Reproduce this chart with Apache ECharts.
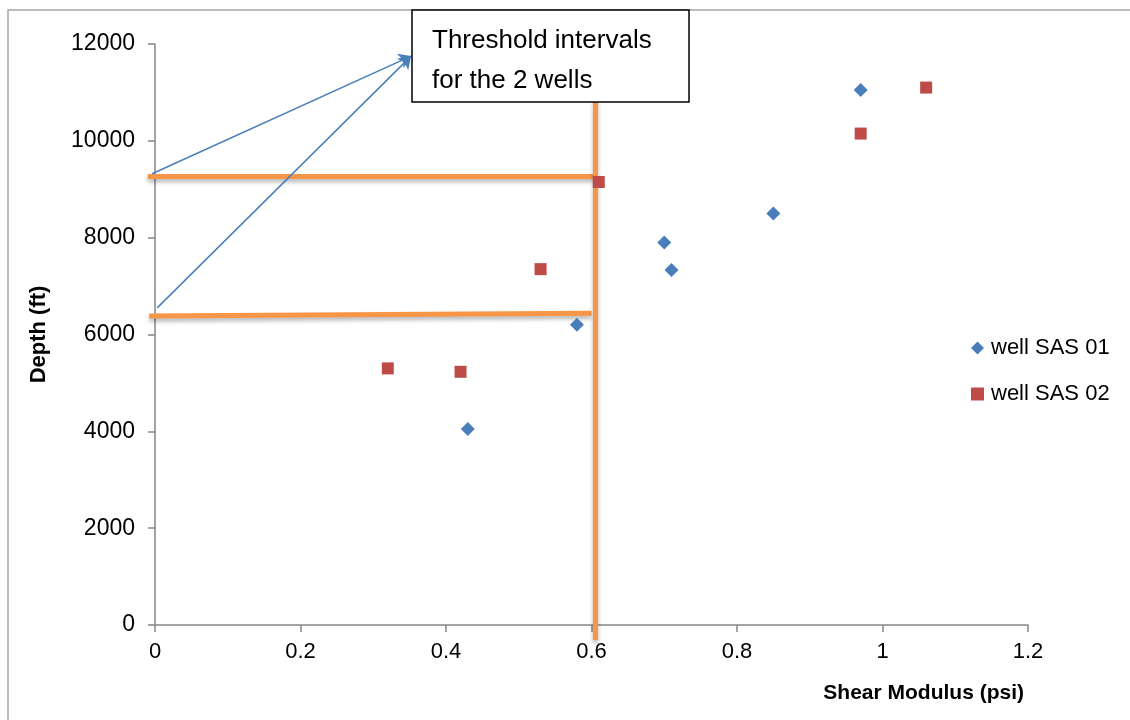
<!DOCTYPE html>
<html>
<head>
<meta charset="utf-8">
<script src="https://cdn.jsdelivr.net/npm/echarts@6/dist/echarts.min.js"></script>
<style>
  html, body { margin: 0; padding: 0; background: #fff; }
  #chart { width: 1130px; height: 720px; }
</style>
</head>
<body>
<div id="chart"></div>
<script>
// well SAS 01 (blue diamonds): [shear modulus, depth]
const well01 = [
  [0.43, 4050],
  [0.58, 6200],
  [0.70, 7900],
  [0.71, 7330],
  [0.85, 8500],
  [0.97, 11050],
];
// well SAS 02 (red squares)
const well02 = [
  [0.32, 5300],
  [0.42, 5230],
  [0.53, 7350],
  [0.61, 9150],
  [0.97, 10150],
  [1.06, 11100],
];
// orange threshold lines
const thresholdLines = [
  [[-0.01, 9275], [0.605, 9275]],
  [[-0.008, 6380], [0.6, 6440]],
  [[0.605, 10850], [0.605, -310]],
];
// blue arrows pointing to the note
const arrowLines = [
  [[-0.004, 9320], [0.352, 11750]],
  [[0.003, 6550], [0.352, 11750]],
];
const noteText = "Threshold intervals\nfor the 2 wells";

const font = "'Liberation Sans', Arial, sans-serif";
const axisColor = "#868686";

const chart = echarts.init(document.getElementById("chart"));

chart.setOption({
  animation: false,
  textStyle: { fontFamily: font },
  grid: {
    left: 155,
    right: 102,
    top: 44,
    bottom: 95,
  },
  legend: {
    orient: "vertical",
    left: 966,
    top: 332,
    itemGap: 24,
    itemWidth: 13,
    itemHeight: 13,
    data: ["well SAS 01", "well SAS 02"],
    textStyle: { fontSize: 22, color: "#000", fontFamily: font, padding: [0, 0, 0, 2] },
  },
  xAxis: {
    type: "value",
    min: 0,
    max: 1.2,
    interval: 0.2,
    splitLine: { show: false },
    axisLine: { onZero: false, lineStyle: { color: axisColor, width: 1.5 } },
    axisTick: { length: 7, lineStyle: { color: axisColor, width: 1.5 } },
    axisLabel: {
      fontSize: 22,
      color: "#000",
      margin: 16,
      formatter: (v) => String(Math.round(v * 10) / 10),
    },
    name: "Shear Modulus (psi)",
    nameLocation: "end",
    nameGap: -4,
    nameTextStyle: {
      fontSize: 21,
      fontWeight: "bold",
      color: "#000",
      align: "right",
      verticalAlign: "top",
      padding: [58, 0, 0, 0],
    },
  },
  yAxis: {
    type: "value",
    min: 0,
    max: 12000,
    interval: 2000,
    splitLine: { show: false },
    axisLine: { onZero: false, lineStyle: { color: axisColor, width: 1.5 } },
    axisTick: { length: 7, lineStyle: { color: axisColor, width: 1.5 } },
    axisLabel: { fontSize: 23, color: "#000", margin: 20, formatter: (v) => String(v) },
    name: "Depth (ft)",
    nameLocation: "middle",
    nameGap: 105,
    nameTextStyle: { fontSize: 22, fontWeight: "bold", color: "#000" },
  },
  graphic: [
    {
      type: "rect",
      silent: true,
      shape: { x: 8, y: 10, width: 1140, height: 730 },
      style: { fill: "none", stroke: "#a6a6a6", lineWidth: 1.5 },
      z: 1,
    },
    {
      type: "rect",
      shape: { x: 412, y: 10, width: 277, height: 92 },
      style: { fill: "#fff", stroke: "#000", lineWidth: 1.5 },
      z: 100,
    },
    {
      type: "text",
      left: 432,
      top: 21,
      z: 101,
      style: {
        text: noteText,
        font: "26px " + font,
        fill: "#000",
        lineHeight: 40,
      },
    },
  ],
  series: [
    {
      name: "threshold",
      type: "lines",
      coordinateSystem: "cartesian2d",
      clip: false,
      z: 3,
      lineStyle: {
        color: "#F79646",
        width: 5,
        opacity: 1,
        shadowColor: "rgba(0,0,0,0.3)",
        shadowBlur: 4,
        shadowOffsetY: 3,
      },
      data: thresholdLines.map((c) => ({ coords: c })),
    },
    {
      name: "arrows",
      type: "lines",
      coordinateSystem: "cartesian2d",
      clip: false,
      z: 4,
      symbol: ["none", "arrow"],
      symbolSize: 12,
      lineStyle: { color: "#4A7EBB", width: 1.5, opacity: 1 },
      data: arrowLines.map((c) => ({ coords: c })),
    },
    {
      name: "well SAS 01",
      type: "scatter",
      symbol: "diamond",
      symbolSize: 14,
      z: 5,
      itemStyle: { color: "#4A7EBB", opacity: 1 },
      data: well01,
    },
    {
      name: "well SAS 02",
      type: "scatter",
      symbol: "rect",
      symbolSize: 12,
      z: 5,
      itemStyle: { color: "#BE4B48", opacity: 1 },
      data: well02,
    },
  ],
});
</script>
</body>
</html>
